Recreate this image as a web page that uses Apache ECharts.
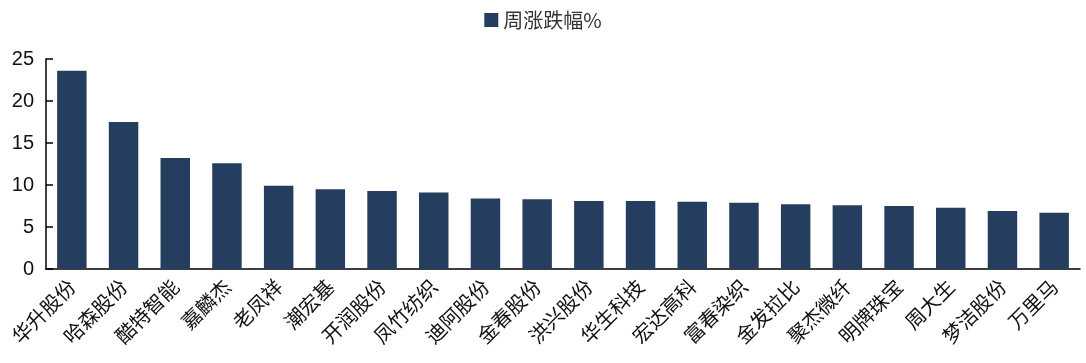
<!DOCTYPE html>
<html lang="zh-CN">
<head>
    <meta charset="UTF-8">
    <title>周涨跌幅</title>
    <script src="https://cdn.jsdelivr.net/npm/echarts@6/dist/echarts.min.js"></script>
    <style>
        * { padding: 0; margin: 0; }
        #chart { width: 1086px; height: 363px; background: #fff; }
    </style>
</head>
<body>
<div id="chart"></div>
<script>
    // 股票名称
    var names = ['华升股份', '哈森股份', '酷特智能', '嘉麟杰', '老凤祥', '潮宏基', '开润股份', '凤竹纺织', '迪阿股份', '金春股份',
        '洪兴股份', '华生科技', '宏达高科', '富春染织', '金发拉比', '聚杰微纤', '明牌珠宝', '周大生', '梦洁股份', '万里马'];
    // 周涨跌幅 (%)
    var weekChange = [23.6, 17.5, 13.2, 12.6, 9.9, 9.5, 9.3, 9.1, 8.4, 8.3,
        8.1, 8.1, 8.0, 7.9, 7.7, 7.6, 7.5, 7.3, 6.9, 6.7];
    var seriesName = '周涨跌幅%';

    var chart = echarts.init(document.getElementById('chart'));
    chart.setOption({
        backgroundColor: '#ffffff',
        animation: false,
        legend: {
            top: 5,
            left: 'center',
            itemWidth: 14,
            itemHeight: 14,
            icon: 'rect',
            itemGap: 8,
            textStyle: { fontSize: 20, color: '#333', fontFamily: 'Noto Sans CJK SC' },
            data: [seriesName]
        },
        grid: { left: 46, right: 6, top: 59, bottom: 94 },
        xAxis: {
            type: 'category',
            data: names,
            axisLine: { lineStyle: { color: '#000', width: 1.5 } },
            axisTick: { inside: true, length: 6, lineStyle: { color: '#000', width: 1.5 } },
            axisLabel: {
                rotate: 45,
                interval: 0,
                margin: 14,
                fontSize: 20,
                color: '#111',
                fontFamily: 'Noto Sans CJK SC'
            }
        },
        yAxis: {
            type: 'value',
            min: 0,
            max: 25,
            interval: 5,
            splitLine: { show: false },
            axisLine: { show: true, lineStyle: { color: '#000', width: 1.5 } },
            axisTick: { show: true, inside: true, length: 7, lineStyle: { color: '#000', width: 1.5 } },
            axisLabel: { fontSize: 20, color: '#111', margin: 12, fontFamily: 'Arial, Liberation Sans' }
        },
        series: [{
            name: seriesName,
            type: 'bar',
            data: weekChange,
            barCategoryGap: '43%',
            itemStyle: { color: '#253E5F' }
        }]
    });
</script>
</body>
</html>
